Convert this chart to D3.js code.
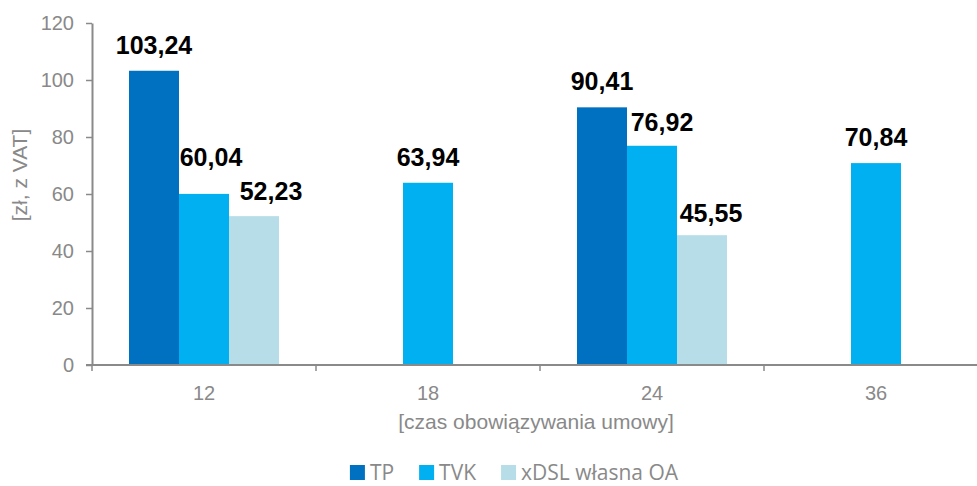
<!DOCTYPE html>
<html>
<head>
<meta charset="utf-8">
<script src="https://cdn.jsdelivr.net/npm/d3@7/dist/d3.min.js"></script>
<style>
  body { margin: 0; background: #fff; }
  svg { display: block; }
  .axis-text { font-family: "Liberation Sans", Arial, sans-serif; fill: #898989; }
</style>
</head>
<body>
<svg id="chart" width="977" height="486"></svg>
<script>
// data
const categories = ["12", "18", "24", "36"];
const seriesNames = ["TP", "TVK", "xDSL własna OA"];
const tpValues = [103.24, null, 90.41, null];
const tvkValues = [60.04, 63.94, 76.92, 70.84];
const xdslValues = [52.23, null, 45.55, null];
const yTicks = [0, 20, 40, 60, 80, 100, 120];
const yTitle = "[zł, z VAT]";
const xTitle = "[czas obowiązywania umowy]";

const colors = ["#0070C0", "#00B0F0", "#B7DEE8"];
const gray = "#898989";
const axisGray = "#8a8a8a";

const width = 977, height = 486;
const margin = {left: 92, top: 23, bottom: 121};
const bandW = 224;

const svg = d3.select("#chart");

const x0 = d3.scaleBand()
  .domain(categories)
  .range([margin.left, margin.left + bandW * categories.length])
  .paddingInner(0).paddingOuter(0);

const x1 = d3.scaleBand()
  .domain(seriesNames)
  .range([0, x0.bandwidth()])
  .paddingInner(0)
  .paddingOuter(0.74);

const y = d3.scaleLinear()
  .domain([0, 120])
  .range([height - margin.bottom, margin.top]);

const comma = d3.formatLocale({decimal: ",", thousands: " ", grouping: [3], currency: ["", " zł"]}).format(".2f");

// label nudges (manual positions in the original)
const nudge = {
  "TVK-0": [7, -28],
  "xDSL własna OA-0": [17, -16],
  "TVK-2": [10, -15],
  "xDSL własna OA-2": [9, -13]
};

const allSeries = [tpValues, tvkValues, xdslValues];
const bars = [];
seriesNames.forEach((s, si) => {
  allSeries[si].forEach((v, ci) => {
    if (v != null) bars.push({series: s, si: si, cat: categories[ci], ci: ci, val: v});
  });
});

// Bars
svg.append("g").selectAll("rect")
  .data(bars)
  .enter()
  .append("rect")
    .attr("x", d => x0(d.cat) + x1(d.series))
    .attr("y", d => y(d.val))
    .attr("width", x1.bandwidth())
    .attr("height", d => y(0) - y(d.val))
    .attr("fill", d => colors[d.si]);

// Axes
const yAxis = d3.axisLeft(y).tickValues(yTicks).tickSize(6).tickSizeOuter(0).tickPadding(12);
const gy = svg.append("g")
  .attr("transform", `translate(${margin.left},0)`)
  .call(yAxis);
gy.select(".domain").attr("stroke", axisGray).attr("stroke-width", 2);
gy.selectAll(".tick line").attr("stroke", axisGray).attr("stroke-width", 1.5);
gy.selectAll(".tick text")
  .attr("class", "axis-text")
  .style("font-size", "20px")
  .attr("fill", gray);

// x axis: labels at centres, ticks on category boundaries
const gx = svg.append("g")
  .attr("transform", `translate(0,${y(0)})`);
gx.append("line")
  .attr("x1", margin.left - 6).attr("x2", x0.range()[1])
  .attr("stroke", axisGray).attr("stroke-width", 2);
const edges = categories.map(c => x0(c)).concat([x0.range()[1]]);
gx.selectAll(".edge")
  .data(edges)
  .enter()
  .append("line")
    .attr("class", "edge")
    .attr("x1", d => d).attr("x2", d => d)
    .attr("y1", 0).attr("y2", 6)
    .attr("stroke", axisGray).attr("stroke-width", 1.5);
gx.selectAll(".cat")
  .data(categories)
  .enter()
  .append("text")
    .attr("class", "axis-text")
    .attr("x", d => x0(d) + x0.bandwidth() / 2)
    .attr("y", 35)
    .attr("text-anchor", "middle")
    .style("font-size", "20px")
    .text(d => d);

// Value labels
svg.append("g").selectAll("text")
  .data(bars)
  .enter()
  .append("text")
    .attr("x", d => x0(d.cat) + x1(d.series) + x1.bandwidth() / 2 + (nudge[d.series + "-" + d.ci] || [0, -17])[0])
    .attr("y", d => y(d.val) + (nudge[d.series + "-" + d.ci] || [0, -17])[1])
    .attr("text-anchor", "middle")
    .style("font-family", "'Liberation Sans', Arial, sans-serif")
    .style("font-weight", "bold")
    .style("font-size", "25px")
    .attr("fill", "#000")
    .text(d => comma(d.val));

// Axis titles
svg.append("text")
  .attr("class", "axis-text")
  .attr("transform", "translate(27,175) rotate(-90)")
  .attr("text-anchor", "middle")
  .style("font-size", "21px")
  .text(yTitle);

svg.append("text")
  .attr("class", "axis-text")
  .attr("x", 536)
  .attr("y", 429)
  .attr("text-anchor", "middle")
  .style("font-size", "21px")
  .text(xTitle);

// Legend
const legend = svg.append("g");
let lx = 0;
seriesNames.forEach((s, i) => {
  const g = legend.append("g").attr("transform", `translate(${lx},0)`);
  g.append("rect")
    .attr("x", 0).attr("y", -15)
    .attr("width", 15).attr("height", 15)
    .attr("fill", colors[i]);
  const t = g.append("text")
    .attr("x", 20).attr("y", 0)
    .style("font-family", "'Open Sans', Calibri, sans-serif")
    .style("font-size", "21px")
    .attr("fill", gray)
    .text(s);
  lx += 20 + t.node().getComputedTextLength() + 25;
});
const legendW = lx - 25;
legend.attr("transform", `translate(${514 - legendW / 2},480)`);
</script>
</body>
</html>
